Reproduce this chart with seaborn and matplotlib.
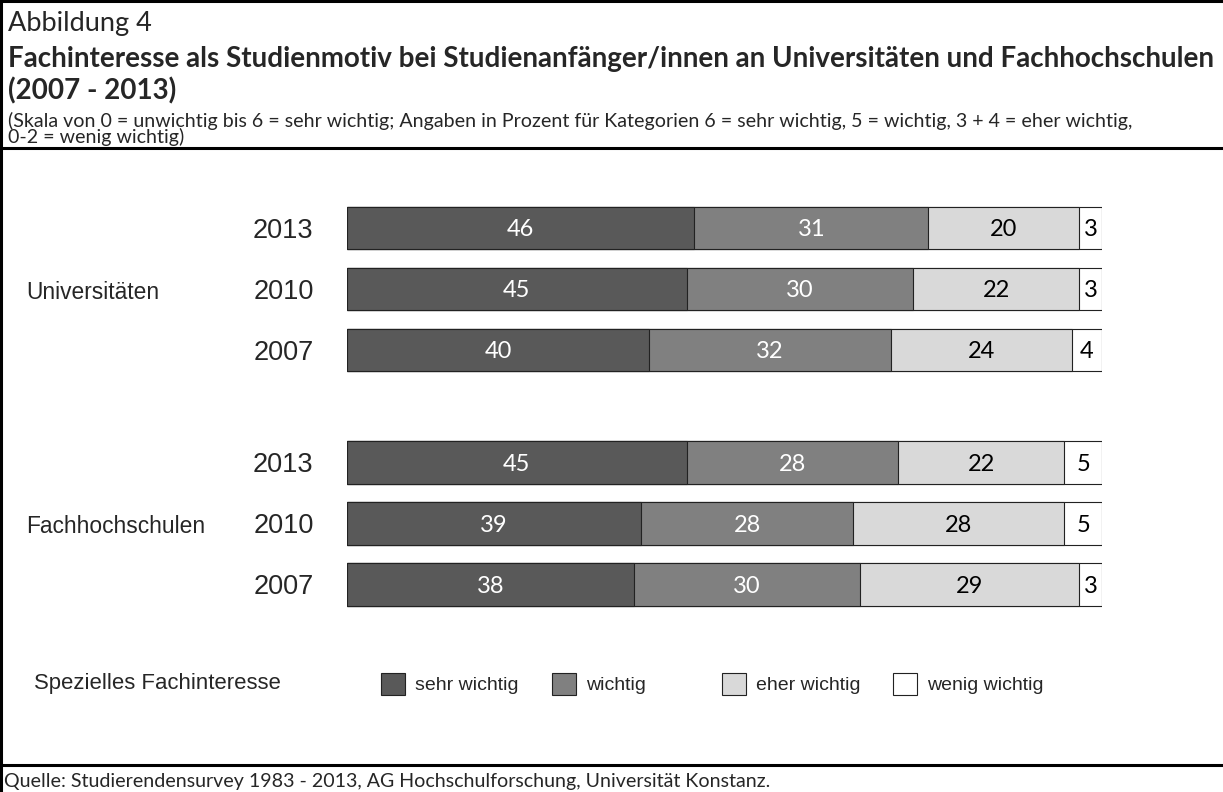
import matplotlib
matplotlib.use("Agg")
import matplotlib.pyplot as plt
from matplotlib.lines import Line2D
import numpy as np
import pandas as pd
import seaborn as sns

# ---- data -------------------------------------------------------------
groups = ["Universitäten", "Fachhochschulen"]
years = ["2013", "2010", "2007", "2013", "2010", "2007"]
sehr_wichtig = [46, 45, 40, 45, 39, 38]
wichtig = [31, 30, 32, 28, 28, 30]
eher_wichtig = [20, 22, 24, 22, 28, 29]
wenig_wichtig = [3, 3, 4, 5, 5, 3]
categories = ["sehr wichtig", "wichtig", "eher wichtig", "wenig wichtig"]

# ---- style ------------------------------------------------------------
colors = ["#595959", "#808080", "#d9d9d9", "#ffffff"]
value_colors = ["white", "white", "black", "black"]
row_pos = [0, 1, 2, 3.84, 4.84, 5.84]   # three rows per group, gap between groups
legend_x = [381, 552, 722, 893]          # left edge of each legend key (px)

W, H = 1223, 792
sns.set_theme(style="white")
calibri_like = ["Lato", "DejaVu Sans"]
arial_like = ["Liberation Sans", "DejaVu Sans"]

fig = plt.figure(figsize=(W / 100, H / 100), dpi=100)
fig.patch.set_facecolor("white")


def fx(px):
    return px / W


def fy(py):
    return 1 - py / H


ax = fig.add_axes([fx(347), fy(620), fx(1102) - fx(347), (620 - 190) / H])

df = pd.DataFrame({"pos": row_pos, "year": years,
                   "sehr wichtig": sehr_wichtig, "wichtig": wichtig,
                   "eher wichtig": eher_wichtig, "wenig wichtig": wenig_wichtig})
cum = df[categories].cumsum(axis=1)

# stacked bars: draw cumulative totals from the longest down to the shortest
for i in reversed(range(len(categories))):
    sns.barplot(x=cum[categories[i]], y=df["pos"], orient="h", native_scale=True,
                color=colors[i], saturation=1, edgecolor="#222222", linewidth=0.8,
                width=0.7, errorbar=None, label=categories[i], ax=ax)

# value labels in the middle of each segment
for i, cat in enumerate(categories):
    centers = cum[cat] - df[cat] / 2
    for c, p, v in zip(centers, df["pos"], df[cat]):
        ax.text(c, p + 0.03, str(v), ha="center", va="center", color=value_colors[i],
                fontsize=17, family=calibri_like)

ax.set_xlim(0, 100)
ax.set_ylim((620 - 228) / 61, (190 - 228) / 61)
ax.set_xticks([])
ax.set_yticks(row_pos)
ax.set_yticklabels(years, family=arial_like, fontsize=19.5)
ax.tick_params(axis="y", length=0, pad=24)
ax.set_xlabel("")
ax.set_ylabel("")
if ax.legend_ is not None:
    ax.legend_.remove()
for s in ax.spines.values():
    s.set_visible(False)
ax.set_facecolor("none")

# group labels
for g, rows in zip(groups, [row_pos[1], row_pos[4]]):
    ypx = 228 + 61 * rows + 3
    fig.text(fx(26), fy(ypx), g, ha="left", va="center", fontsize=16.4, family=arial_like)

# legend: one key per column at fixed positions
handles, labels = ax.get_legend_handles_labels()
fig.text(fx(34), fy(683), "Spezielles Fachinteresse", ha="left", va="center",
         fontsize=15.9, family=arial_like)
for cat, xpx in zip(categories, legend_x):
    k = labels.index(cat)
    fig.legend([handles[k]], [cat], loc="center left",
               bbox_to_anchor=(fx(xpx), fy(684)), frameon=False,
               prop={"family": arial_like, "size": 14}, handlelength=1.22,
               handleheight=1.4, handletextpad=0.52, borderpad=0, borderaxespad=0)

# header and footer
fig.text(fx(8), fy(23), "Abbildung 4", ha="left", va="center", fontsize=19.5,
         family=calibri_like)
fig.text(fx(8), fy(59), "Fachinteresse als Studienmotiv bei Studienanfänger/innen an "
         "Universitäten und Fachhochschulen", ha="left", va="center", fontsize=20,
         weight="bold", family=calibri_like)
fig.text(fx(8), fy(91), "(2007 - 2013)", ha="left", va="center", fontsize=20,
         weight="bold", family=calibri_like)
fig.text(fx(8), fy(127), "(Skala von 0 = unwichtig bis 6 = sehr wichtig; Angaben in "
         "Prozent für Kategorien 6 = sehr wichtig, 5 = wichtig, 3 + 4 = eher wichtig,",
         ha="left", va="baseline", fontsize=14.1, family=calibri_like)
fig.text(fx(8), fy(143), "0-2 = wenig wichtig)", ha="left", va="baseline", fontsize=14.1,
         family=calibri_like)
fig.text(fx(4), fy(781), "Quelle: Studierendensurvey 1983 - 2013, AG Hochschulforschung, "
         "Universität Konstanz.", ha="left", va="center", fontsize=14.1, family=calibri_like)

for (x0, y0, x1, y1) in [(0, 1, W, 1), (1, 0, 1, H), (0, 148, W, 148), (0, 765, W, 765)]:
    fig.add_artist(Line2D([fx(x0), fx(x1)], [fy(y0), fy(y1)], color="black", lw=2.2,
                          transform=fig.transFigure))

fig.savefig("out.png", dpi=100, facecolor="white")
